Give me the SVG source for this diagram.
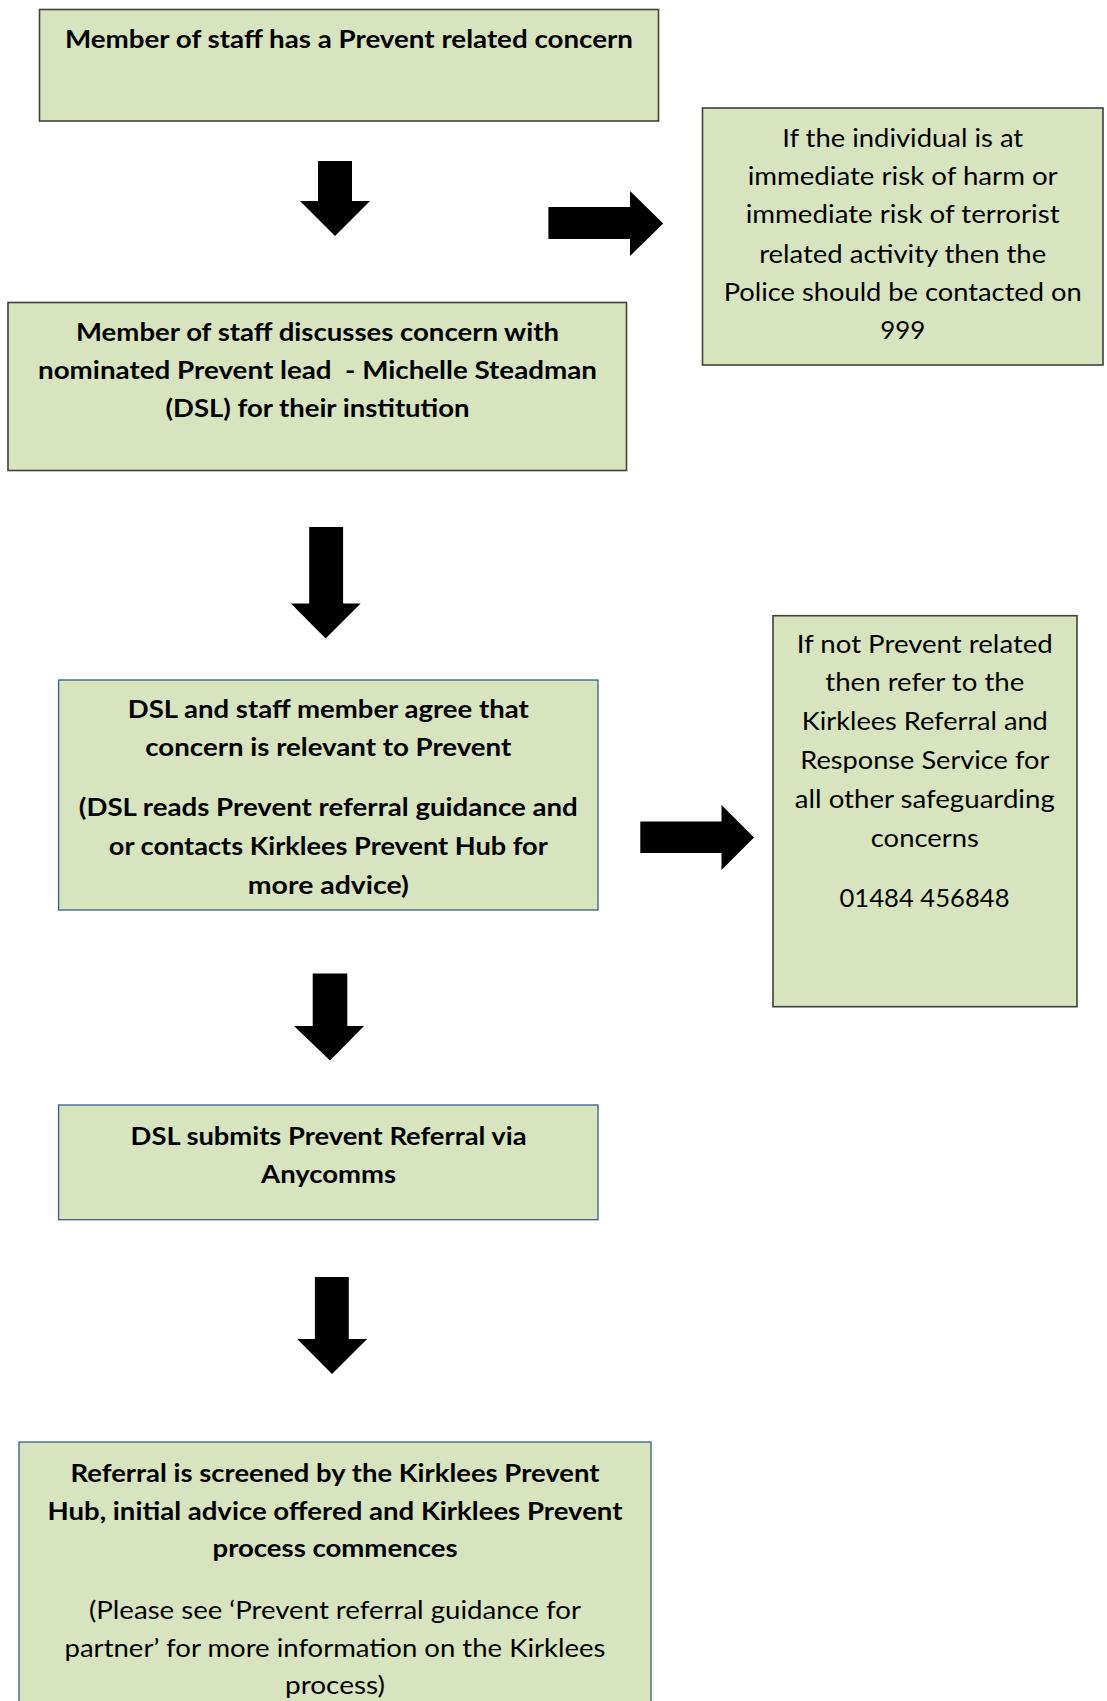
<svg xmlns="http://www.w3.org/2000/svg" width="1107" height="1701" viewBox="0 0 1107 1701">
<style>
.box{fill:#D7E4BD}
.gray{stroke:#404040;stroke-width:1.6}
.blue{stroke:#385D8A;stroke-width:1.3}
.t{font-family:Lato,"Liberation Sans",sans-serif;font-size:25px;fill:#000;text-anchor:middle}
.b{font-weight:bold}
.arrow{fill:#000}
</style>
<rect x="0" y="0" width="1107" height="1701" fill="#fff"/>
<g id="n1">
<rect class="box gray" x="39.5" y="9.5" width="619" height="111.5"/>
<text class="t b" x="349" y="47.5" textLength="568" lengthAdjust="spacingAndGlyphs">Member of staff has a Prevent related concern</text>
</g>
<g id="n2">
<rect class="box gray" x="8" y="302.5" width="618.5" height="168"/>
<text class="t b" x="317.5" y="340.5" textLength="483" lengthAdjust="spacingAndGlyphs">Member of staff discusses concern with</text>
<text class="t b" x="317.5" y="379" textLength="559" lengthAdjust="spacingAndGlyphs" style="white-space:pre">nominated Prevent lead  - Michelle Steadman</text>
<text class="t b" x="317.5" y="417" textLength="304" lengthAdjust="spacingAndGlyphs">(DSL) for their institution</text>
</g>
<g id="n3">
<rect class="box gray" x="702.5" y="108" width="400.5" height="257"/>
<text class="t" x="902.7" y="146.7" textLength="241" lengthAdjust="spacingAndGlyphs">If the individual is at</text>
<text class="t" x="902.7" y="185" textLength="310" lengthAdjust="spacingAndGlyphs">immediate risk of harm or</text>
<text class="t" x="902.7" y="223.3" textLength="314" lengthAdjust="spacingAndGlyphs">immediate risk of terrorist</text>
<text class="t" x="902.7" y="262.5" textLength="287" lengthAdjust="spacingAndGlyphs">related activity then the</text>
<text class="t" x="902.7" y="301" textLength="358" lengthAdjust="spacingAndGlyphs">Police should be contacted on</text>
<text class="t" x="902.7" y="339.3" textLength="45" lengthAdjust="spacingAndGlyphs">999</text>
</g>
<g id="n4">
<rect class="box blue" x="58.6" y="680" width="539.4" height="230"/>
<text class="t b" x="328.3" y="718" textLength="401" lengthAdjust="spacingAndGlyphs">DSL and staff member agree that</text>
<text class="t b" x="328.3" y="756" textLength="366" lengthAdjust="spacingAndGlyphs">concern is relevant to Prevent</text>
<text class="t b" x="328.3" y="815.7" textLength="499" lengthAdjust="spacingAndGlyphs">(DSL reads Prevent referral guidance and</text>
<text class="t b" x="328.3" y="855" textLength="439" lengthAdjust="spacingAndGlyphs">or contacts Kirklees Prevent Hub for</text>
<text class="t b" x="328.3" y="893.5" textLength="161" lengthAdjust="spacingAndGlyphs">more advice)</text>
</g>
<g id="n5">
<rect class="box gray" x="773" y="615.7" width="304" height="391"/>
<text class="t" x="924.8" y="652.6" textLength="256" lengthAdjust="spacingAndGlyphs">If not Prevent related</text>
<text class="t" x="924.8" y="691" textLength="199" lengthAdjust="spacingAndGlyphs">then refer to the</text>
<text class="t" x="924.8" y="729.7" textLength="246" lengthAdjust="spacingAndGlyphs">Kirklees Referral and</text>
<text class="t" x="924.8" y="769" textLength="249" lengthAdjust="spacingAndGlyphs">Response Service for</text>
<text class="t" x="924.8" y="808" textLength="260" lengthAdjust="spacingAndGlyphs">all other safeguarding</text>
<text class="t" x="924.8" y="847" textLength="108" lengthAdjust="spacingAndGlyphs">concerns</text>
<text class="t" x="924.5" y="907" textLength="170" lengthAdjust="spacingAndGlyphs">01484 456848</text>
</g>
<g id="n6">
<rect class="box blue" x="58.6" y="1105" width="539.4" height="114.7"/>
<text class="t b" x="328.6" y="1144.6" textLength="396" lengthAdjust="spacingAndGlyphs">DSL submits Prevent Referral via</text>
<text class="t b" x="328.6" y="1182.8" textLength="135" lengthAdjust="spacingAndGlyphs">Anycomms</text>
</g>
<g id="n7">
<rect class="box blue" x="19" y="1442" width="632" height="280"/>
<text class="t b" x="335" y="1481.5" textLength="529" lengthAdjust="spacingAndGlyphs">Referral is screened by the Kirklees Prevent</text>
<text class="t b" x="335" y="1519.7" textLength="575" lengthAdjust="spacingAndGlyphs">Hub, initial advice offered and Kirklees Prevent</text>
<text class="t b" x="335" y="1557" textLength="245" lengthAdjust="spacingAndGlyphs">process commences</text>
<text class="t" x="335" y="1618.5" textLength="492" lengthAdjust="spacingAndGlyphs">(Please see ‘Prevent referral guidance for</text>
<text class="t" x="335" y="1656.6" textLength="541" lengthAdjust="spacingAndGlyphs">partner’ for more information on the Kirklees</text>
<text class="t" x="335" y="1694" textLength="100" lengthAdjust="spacingAndGlyphs">process)</text>
</g>
<g id="connectors">
<polygon class="arrow" points="318,161 352,161 352,201 370,201 335,236 300,201 318,201"/>
<polygon class="arrow" points="548.4,207 630,207 630,191 663.2,223.5 630,256 630,239 548.4,239"/>
<polygon class="arrow" points="309.2,527 343.1,527 343.1,603.5 360.7,603.5 325.6,638.5 290.9,603.5 309.2,603.5"/>
<polygon class="arrow" points="640.3,821.6 721.5,821.6 721.5,805 754,837.5 721.5,870 721.5,853 640.3,853"/>
<polygon class="arrow" points="312.7,973.5 347.3,973.5 347.3,1026 364,1026 330,1060.5 294,1026 312.7,1026"/>
<polygon class="arrow" points="314.9,1277 348.8,1277 348.8,1339 367.1,1339 332,1374 297.2,1339 314.9,1339"/>
</g>
</svg>
